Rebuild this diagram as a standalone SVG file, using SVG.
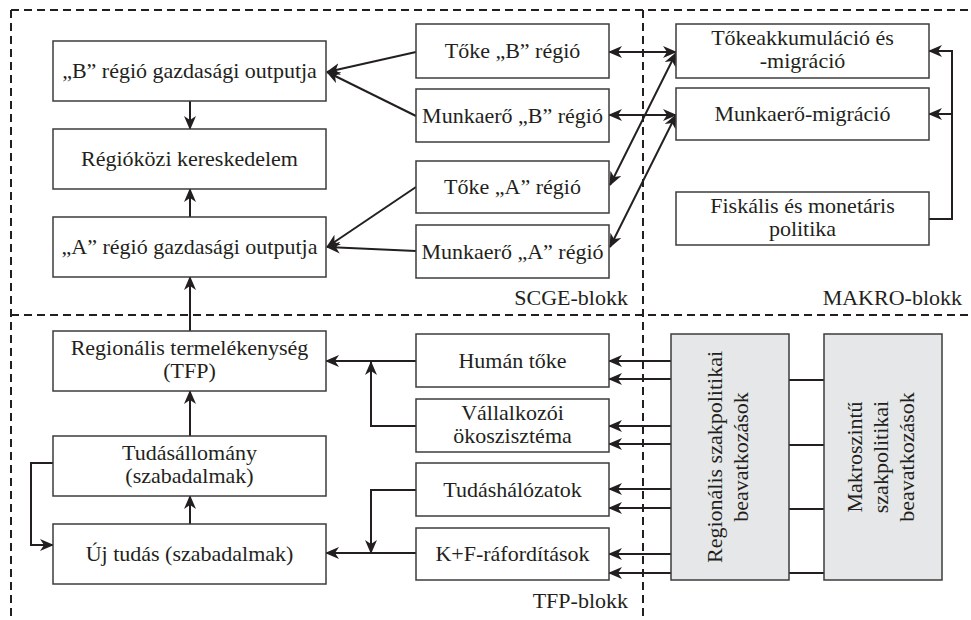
<svg xmlns="http://www.w3.org/2000/svg" width="971" height="620" viewBox="0 0 971 620">
<defs>
<marker id="ah" viewBox="0 0 14 12" refX="13" refY="6" markerWidth="14" markerHeight="12" markerUnits="userSpaceOnUse" orient="auto-start-reverse">
<path d="M0,0 L14,6 L0,12 L4,6 z" fill="#231f20"/>
</marker>
<style>
.box{fill:#fff;stroke:#3c3c3c;stroke-width:1.5}
.gbox{fill:#e6e7e8;stroke:#3c3c3c;stroke-width:1.5}
.t{font-family:"Liberation Serif","DejaVu Serif",serif;font-size:22px;fill:#231f20;text-anchor:middle}
.lbl{font-family:"Liberation Serif","DejaVu Serif",serif;font-size:22px;fill:#231f20;text-anchor:end}
.c{fill:none;stroke:#231f20;stroke-width:2}
.a{marker-end:url(#ah)}
.d{marker-start:url(#ah);marker-end:url(#ah)}
.dash{fill:none;stroke:#231f20;stroke-width:2;stroke-dasharray:8 5}
</style>
</defs>
<rect width="971" height="620" fill="#fff"/>
<g id="blocks">
<path class="dash" d="M11,10 H971 M11,10 V620 M11,315 H971 M643,10 V620"/>
<text class="lbl" x="628" y="305">SCGE-blokk</text>
<text class="lbl" x="962" y="305">MAKRO-blokk</text>
<text class="lbl" x="628" y="608">TFP-blokk</text>
</g>
<g id="connectors">
<path class="c a" d="M190,101 V129"/>
<path class="c a" d="M190,217 V189"/>
<path class="c a" d="M190,331 V277"/>
<path class="c a" d="M416,52 L327,72"/>
<path class="c a" d="M416,116 L327,72"/>
<path class="c a" d="M416,187 L327,247"/>
<path class="c a" d="M416,251 L327,247"/>
<path class="c d" d="M609,52 H676"/>
<path class="c d" d="M609,115 H676"/>
<path class="c d" d="M610,185 L676,53"/>
<path class="c d" d="M610,247 L676,115"/>
<path class="c a" d="M929,219 H952 V51 H929"/>
<path class="c a" d="M952,114 H929"/>
<path class="c a" d="M190,436 V391"/>
<path class="c a" d="M190,524 V496"/>
<path class="c a" d="M53,463 H31 V545 H53"/>
<path class="c a" d="M416,361 H326"/>
<path class="c a" d="M416,426 H371 V362"/>
<path class="c a" d="M416,490 H371 V553"/>
<path class="c a" d="M416,553 H326"/>
<path class="c a" d="M671,361 H609"/>
<path class="c a" d="M671,379 H609"/>
<path class="c a" d="M671,426 H609"/>
<path class="c a" d="M671,444 H609"/>
<path class="c a" d="M671,489 H609"/>
<path class="c a" d="M671,508 H609"/>
<path class="c a" d="M671,554 H609"/>
<path class="c a" d="M671,573 H609"/>
<path class="c" d="M789,380 H824 M789,445 H824 M789,509 H824 M789,573 H824"/>
</g>
<g id="n_boutput"><rect class="box" x="53" y="41" width="273" height="60"/><text class="t" x="189.5" y="78">„B” régió gazdasági outputja</text></g>
<g id="n_kereskedelem"><rect class="box" x="53" y="129" width="273" height="60"/><text class="t" x="189.5" y="166">Régióközi kereskedelem</text></g>
<g id="n_aoutput"><rect class="box" x="53" y="217" width="273" height="60"/><text class="t" x="189.5" y="254">„A” régió gazdasági outputja</text></g>
<g id="n_tokeb"><rect class="box" x="416" y="24" width="193" height="54"/><text class="t" x="512.5" y="58">Tőke „B” régió</text></g>
<g id="n_munkab"><rect class="box" x="416" y="89" width="193" height="53"/><text class="t" x="512.5" y="123">Munkaerő „B” régió</text></g>
<g id="n_tokea"><rect class="box" x="416" y="161" width="193" height="52"/><text class="t" x="512.5" y="194">Tőke „A” régió</text></g>
<g id="n_munkaa"><rect class="box" x="416" y="225" width="193" height="53"/><text class="t" x="512.5" y="259">Munkaerő „A” régió</text></g>
<g id="n_tokeakk"><rect class="box" x="676" y="24" width="253" height="54"/><text class="t" x="802.5" y="45">Tőkeakkumuláció és</text><text class="t" x="802.5" y="68">-migráció</text></g>
<g id="n_munkamig"><rect class="box" x="676" y="88" width="253" height="52"/><text class="t" x="802.5" y="121">Munkaerő-migráció</text></g>
<g id="n_fiskalis"><rect class="box" x="676" y="192" width="253" height="53"/><text class="t" x="802.5" y="213">Fiskális és monetáris</text><text class="t" x="802.5" y="236">politika</text></g>
<g id="n_tfp"><rect class="box" x="53" y="331" width="273" height="60"/><text class="t" x="189.5" y="355">Regionális termelékenység</text><text class="t" x="189.5" y="378">(TFP)</text></g>
<g id="n_tudasall"><rect class="box" x="53" y="436" width="273" height="60"/><text class="t" x="189.5" y="460">Tudásállomány</text><text class="t" x="189.5" y="483">(szabadalmak)</text></g>
<g id="n_ujtudas"><rect class="box" x="53" y="524" width="273" height="60"/><text class="t" x="189.5" y="561">Új tudás (szabadalmak)</text></g>
<g id="n_human"><rect class="box" x="416" y="334" width="193" height="53"/><text class="t" x="512.5" y="368">Humán tőke</text></g>
<g id="n_vallalkozoi"><rect class="box" x="416" y="399" width="193" height="53"/><text class="t" x="512.5" y="420">Vállalkozói</text><text class="t" x="512.5" y="443">ökoszisztéma</text></g>
<g id="n_tudashal"><rect class="box" x="416" y="463" width="193" height="53"/><text class="t" x="512.5" y="497">Tudáshálózatok</text></g>
<g id="n_kf"><rect class="box" x="416" y="528" width="193" height="52"/><text class="t" x="512.5" y="561">K+F-ráfordítások</text></g>
<g id="n_regpol"><rect class="gbox" x="671" y="334" width="118" height="246"/><text class="t" transform="translate(730,457) rotate(-90)" x="0" y="-8">Regionális szakpolitikai</text><text class="t" transform="translate(730,457) rotate(-90)" x="0" y="18">beavatkozások</text></g>
<g id="n_makropol"><rect class="gbox" x="824" y="334" width="118" height="246"/><text class="t" transform="translate(883,457) rotate(-90)" x="0" y="-21">Makroszintű</text><text class="t" transform="translate(883,457) rotate(-90)" x="0" y="5">szakpolitikai</text><text class="t" transform="translate(883,457) rotate(-90)" x="0" y="31">beavatkozások</text></g>
</svg>
